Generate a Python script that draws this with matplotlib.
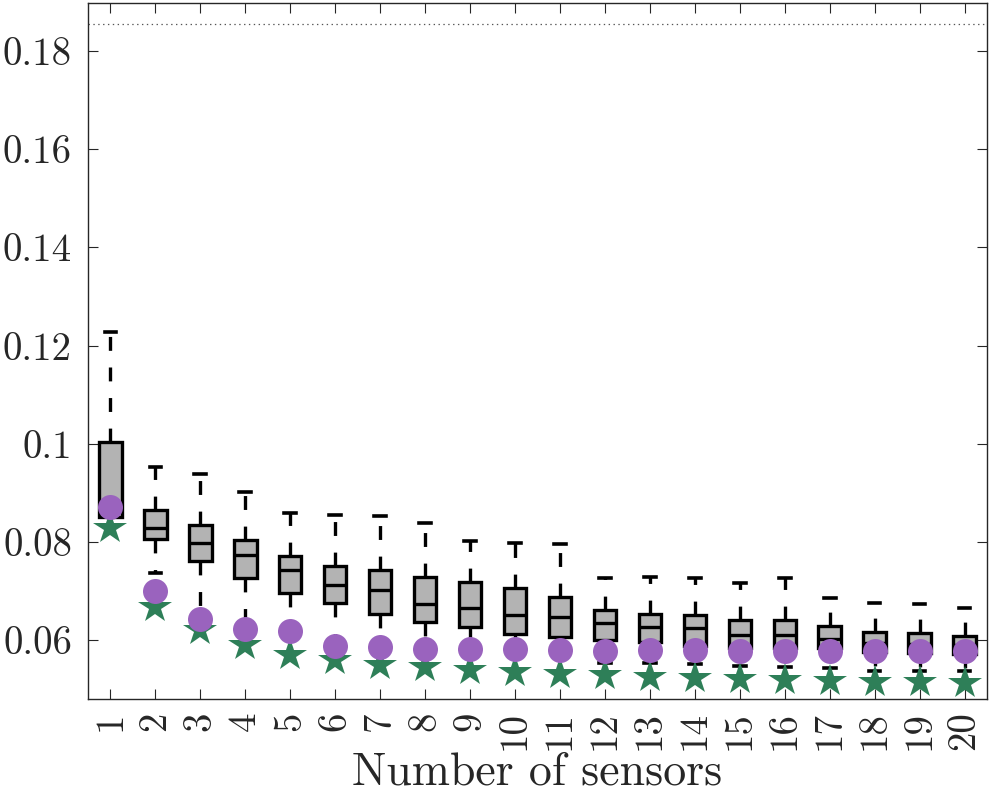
import matplotlib
matplotlib.use("Agg")
import matplotlib.pyplot as plt
import numpy as np

plt.rcParams['font.family'] = ['cmr10', 'DejaVu Serif']
plt.rcParams['axes.formatter.use_mathtext'] = True
plt.rcParams['lines.scale_dashes'] = False

sensors = list(range(1, 21))
q3 = [0.1003, 0.0865, 0.0834, 0.0803, 0.0771, 0.0751, 0.0743, 0.0729, 0.0719, 0.0707,
      0.0688, 0.0661, 0.0654, 0.0651, 0.0641, 0.0641, 0.0628, 0.0616, 0.0614, 0.0609]
med = [0.0865, 0.0829, 0.0797, 0.0773, 0.0742, 0.0712, 0.0702, 0.0673, 0.0665, 0.0651,
       0.0647, 0.0635, 0.0627, 0.0624, 0.0610, 0.0610, 0.0603, 0.0595, 0.0593, 0.0590]
q1 = [0.0850, 0.0806, 0.0761, 0.0726, 0.0695, 0.0675, 0.0654, 0.0637, 0.0626, 0.0612,
      0.0607, 0.0601, 0.0597, 0.0588, 0.0583, 0.0583, 0.0583, 0.0575, 0.0574, 0.0572]
whis_hi = [0.1227, 0.0952, 0.0939, 0.0901, 0.0858, 0.0854, 0.0852, 0.0839, 0.0802, 0.0798,
           0.0795, 0.0727, 0.0728, 0.0726, 0.0717, 0.0726, 0.0685, 0.0675, 0.0673, 0.0666]
whis_lo = [0.0850, 0.0736, 0.0643, 0.0625, 0.0620, 0.0600, 0.0595, 0.0590, 0.0585, 0.0580,
           0.0578, 0.0554, 0.0553, 0.0551, 0.0547, 0.0546, 0.0544, 0.0538, 0.0538, 0.0536]
circles = [0.0871, 0.0700, 0.0642, 0.0622, 0.0618, 0.0588, 0.0586, 0.0582, 0.0582, 0.0582,
           0.0580, 0.0578, 0.0580, 0.0580, 0.0578, 0.0578, 0.0578, 0.0578, 0.0578, 0.0578]
stars = [0.0829, 0.0667, 0.0621, 0.0589, 0.0570, 0.0559, 0.0550, 0.0545, 0.0540, 0.0535,
         0.0531, 0.0528, 0.0525, 0.0522, 0.0520, 0.0518, 0.0516, 0.0515, 0.0514, 0.0513]
ref_line = 0.1855
ytick_vals = [0.06, 0.08, 0.10, 0.12, 0.14, 0.16, 0.18]
ytick_labels = ['0.06', '0.08', '0.1', '0.12', '0.14', '0.16', '0.18']

fig = plt.figure(figsize=(9.95, 7.97), dpi=100)
ax = fig.add_axes([0.0884, 0.123, 0.9036, 0.8732])

stats = []
for i in range(len(sensors)):
    stats.append(dict(med=med[i], q1=q1[i], q3=q3[i], whislo=whis_lo[i], whishi=whis_hi[i], fliers=[]))

ax.bxp(stats, positions=sensors, widths=0.5, patch_artist=True, showfliers=False,
       boxprops=dict(facecolor='#b3b3b3', edgecolor='black', linewidth=2.4),
       medianprops=dict(color='black', linewidth=2.4),
       whiskerprops=dict(color='black', linewidth=2.4, linestyle=(0, (10, 12))),
       capprops=dict(color='black', linewidth=2.6),
       capwidths=0.26)

ax.plot(sensors, stars, linestyle='none', marker='*', markersize=25, color='#2e7f58',
        markeredgewidth=0, zorder=4)
ax.plot(sensors, circles, linestyle='none', marker='o', markersize=18, color='#9a63be',
        markeredgewidth=0, zorder=5)
ax.axhline(ref_line, color='#555555', linestyle=(0, (1, 2.5)), linewidth=0.9, zorder=1)

ax.set_xlim(0.5, 20.5)
ax.set_ylim(0.048, 0.1898)
ax.set_yticks(ytick_vals)
ax.set_yticklabels(ytick_labels)
ax.set_xticks(sensors)
ax.set_xticklabels([str(s) for s in sensors], rotation=90)
ax.tick_params(axis='both', direction='in', length=7, width=0.8, top=True, right=True,
               labelsize=28, colors='#262626', labelcolor='#262626')
ax.tick_params(axis='x', pad=9)
ax.tick_params(axis='y', pad=11.5)
for s in ax.spines.values():
    s.set_linewidth(1.0)
    s.set_color('#262626')
ax.set_xlabel('Number of sensors', fontsize=33, color='#262626', labelpad=1)

fig.savefig('out.png', dpi=100)
